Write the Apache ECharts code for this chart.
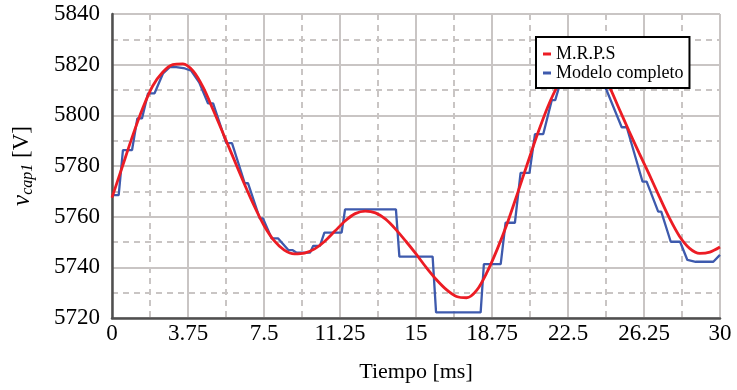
<!DOCTYPE html>
<html>
<head>
<meta charset="utf-8">
<script src="https://cdn.jsdelivr.net/npm/echarts@6/dist/echarts.min.js"></script>
<style>
html,body{margin:0;padding:0;background:#fff;}
#chart{width:737px;height:390px;}
</style>
</head>
<body>
<div id="chart"></div>
<script>
// ---- data ----
var xTicks = ['0', '3.75', '7.5', '11.25', '15', '18.75', '22.5', '26.25', '30'];
var yTicks = ['5720', '5740', '5760', '5780', '5800', '5820', '5840'];

var seriesNames = ['M.R.P.S', 'Modelo completo'];

var redTime = [0, 0.5, 1, 1.5, 2, 2.5, 3, 3.5, 4, 4.5, 5, 5.5, 6, 6.5, 7, 7.5, 8, 8.5, 9, 9.5,
  10, 10.5, 11, 11.5, 12, 12.5, 13, 13.5, 14, 14.5, 15, 15.5, 16, 16.5, 17, 17.5, 18, 18.5, 19, 19.5,
  20, 20.5, 21, 21.5, 22, 22.5, 23, 23.5, 24, 24.5, 25, 25.5, 26, 26.5, 27, 27.5, 28, 28.5, 29, 29.5, 30];
var redValue = [5767.5, 5779.5, 5791.5, 5802.5, 5811.5, 5817, 5820, 5820.3, 5817.5, 5811,
  5802, 5792.5, 5783, 5773.5, 5764.5, 5756.5, 5750.5, 5746.8, 5745.3, 5745.6,
  5747.3, 5750.3, 5754.3, 5758.3, 5761.2, 5762.2, 5761.5, 5759, 5755, 5750.3,
  5745.3, 5740, 5735.2, 5731.2, 5728.5, 5728, 5731, 5738, 5747, 5757.3,
  5769, 5781, 5792.7, 5803.3, 5811.8, 5817.8, 5821.3, 5821.6, 5818.8, 5812,
  5803, 5794, 5785.3, 5776.8, 5768, 5759.5, 5752.3, 5747.5, 5745.5, 5746, 5748];

var blueTime = [0, 0.33, 0.54, 0.99, 1.25, 1.48, 1.78, 2.1, 2.52, 2.85, 3.17, 3.6, 3.91, 4.3, 4.74, 4.99,
  5.64, 5.92, 6.55, 6.71, 7.29, 7.45, 7.88, 8.2, 8.7, 8.9, 9.11, 9.77, 9.93, 10.26, 10.48, 11.33, 11.5,
  14.01, 14.18, 15.82, 15.99, 18.19, 18.35, 19.18, 19.42, 19.88, 20.16, 20.6, 20.87, 21.28, 21.7, 21.87,
  22.2, 22.6, 22.8, 23.8, 24.0, 24.4, 25.15, 25.4, 26.18, 26.38, 26.95, 27.1, 27.57, 28.03, 28.39, 28.8,
  29.67, 30];
var blueValue = [5768.5, 5768.5, 5786.3, 5786.3, 5798.8, 5798.8, 5808.7, 5808.7, 5816.6, 5819, 5819, 5818.5, 5817.6, 5813, 5804.7, 5804.7,
  5789, 5789, 5773.2, 5773.2, 5759.3, 5759.3, 5751.4, 5751.4, 5746.8, 5746.8, 5745.8, 5745.8, 5748.5, 5748.5, 5753.7, 5753.7, 5762.9,
  5762.9, 5744.2, 5744.2, 5722.2, 5722.2, 5741.3, 5741.3, 5757.6, 5757.6, 5777.3, 5777.3, 5792.6, 5792.6, 5806, 5806,
  5815, 5815, 5819.5, 5819.5, 5815, 5810, 5795.3, 5795.3, 5773.8, 5773.8, 5762, 5762, 5750.1, 5750.1, 5742.9, 5742.2,
  5742.2, 5744.9];

// ---- build ----
function pairs(xs, ys) { var out = []; for (var i = 0; i < xs.length; i++) out.push([xs[i], ys[i]]); return out; }

var FONT = '"Liberation Serif", "DejaVu Serif", serif';
var gridColor = '#c9c5c4';
var axisColor = '#4f4f4f';

var chart = echarts.init(document.getElementById('chart'), null, { renderer: 'canvas' });
chart.setOption({
  animation: false,
  backgroundColor: '#ffffff',
  textStyle: { fontFamily: FONT, color: '#000' },
  grid: { left: 112, right: 17, top: 14, bottom: 72, containLabel: false },
  legend: {
    z: 20,
    orient: 'vertical',
    left: 536, top: 37,
    padding: [8, 6, 6, 7],
    itemGap: 1,
    itemWidth: 8, itemHeight: 3,
    icon: 'rect',
    backgroundColor: '#ffffff',
    borderColor: '#000000',
    borderWidth: 2,
    borderRadius: 0,
    textStyle: { fontFamily: FONT, fontSize: 18, color: '#000', padding: [0, 0, 0, 0] },
    data: [{ name: seriesNames[0] }, { name: seriesNames[1] }]
  },
  xAxis: {
    type: 'value',
    min: 0, max: 30, interval: 3.75,
    name: 'Tiempo [ms]',
    nameLocation: 'middle',
    nameGap: 43,
    nameTextStyle: { fontFamily: FONT, fontSize: 22, color: '#000' },
    axisLine: { show: true, onZero: false, lineStyle: { color: axisColor, width: 2.5 } },
    axisTick: { show: false },
    axisLabel: {
      fontFamily: FONT, fontSize: 23, color: '#000', margin: 4,
      formatter: function (v) { var i = Math.round(v / 3.75); return xTicks[i] !== undefined ? xTicks[i] : ''; }
    },
    splitLine: { show: true, lineStyle: { color: gridColor, width: 2 } },
    minorTick: { show: false, splitNumber: 2 },
    minorSplitLine: { show: true, lineStyle: { color: gridColor, width: 2, type: [6, 5] } }
  },
  yAxis: {
    type: 'value',
    min: 5720, max: 5840, interval: 20,
    name: '{v|v}{s|cap1} {u|[V]}',
    nameLocation: 'middle',
    nameGap: 76,
    nameRotate: 90,
    nameTextStyle: {
      fontFamily: FONT, fontSize: 23, color: '#000',
      rich: {
        v: { fontFamily: FONT, fontSize: 25, fontStyle: 'italic', color: '#000' },
        s: { fontFamily: FONT, fontSize: 16, fontStyle: 'italic', color: '#000', padding: [12, 0, 0, 0] },
        u: { fontFamily: FONT, fontSize: 23, color: '#000' }
      }
    },
    axisLine: { show: true, onZero: false, lineStyle: { color: axisColor, width: 2.5 } },
    axisTick: { show: false },
    axisLabel: {
      fontFamily: FONT, fontSize: 23, color: '#000', margin: 12,
      formatter: function (v) { var i = Math.round((v - 5720) / 20); return yTicks[i] !== undefined ? yTicks[i] : ''; }
    },
    splitLine: { show: true, lineStyle: { color: gridColor, width: 2 } },
    minorTick: { show: false, splitNumber: 2 },
    minorSplitLine: { show: true, lineStyle: { color: gridColor, width: 2, type: [6, 5] } }
  },
  series: [
    {
      name: seriesNames[0],
      type: 'line',
      data: pairs(redTime, redValue),
      smooth: 0.3,
      showSymbol: false,
      z: 3,
      color: '#ec1c24',
      lineStyle: { color: '#ec1c24', width: 2.8 }
    },
    {
      name: seriesNames[1],
      type: 'line',
      data: pairs(blueTime, blueValue),
      smooth: false,
      showSymbol: false,
      z: 2,
      color: '#3e5aad',
      lineStyle: { color: '#3e5aad', width: 2.3 }
    }
  ]
});
</script>
</body>
</html>
